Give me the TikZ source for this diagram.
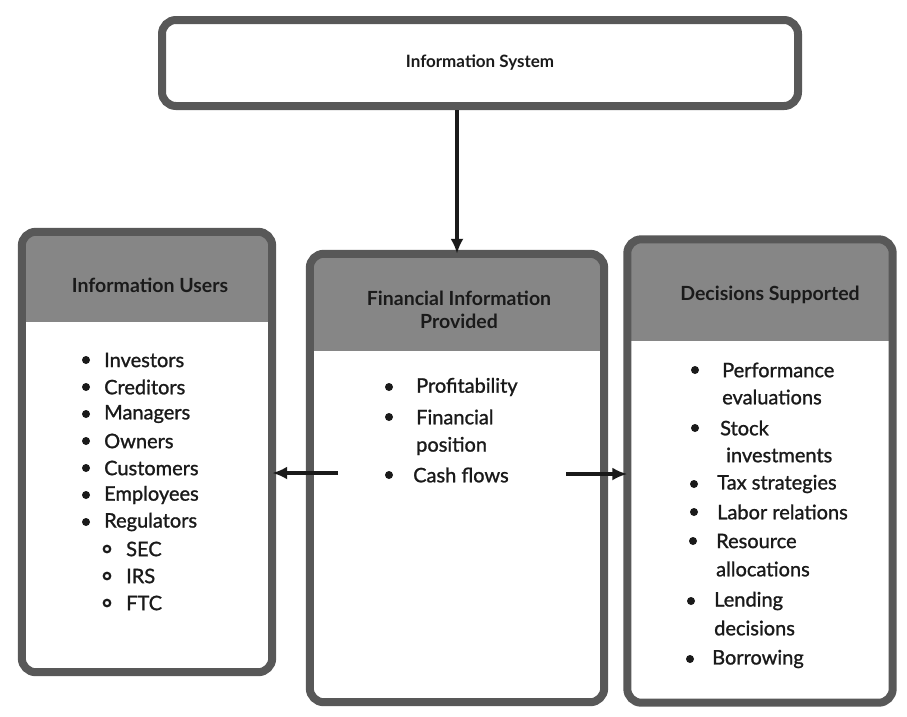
\documentclass[tikz,border=0pt]{standalone}
\usepackage{fontspec}
\setmainfont{Lato}
\newfontfamily\itemfont[FakeBold=1.2]{Lato}
\usetikzlibrary{arrows.meta,calc}
\definecolor{bordergray}{HTML}{585858}
\definecolor{headgray}{HTML}{868686}
\definecolor{ink}{HTML}{1A1A1A}
\begin{document}
\begin{tikzpicture}[x=1pt,y=1pt,
  card/.style={rectangle, fill=white, inner sep=0pt},
  frame/.style={draw=bordergray, line width=8pt, rounded corners=14pt},
  boxtitle/.style={font=\bfseries\fontsize{19.5}{23}\selectfont, text=ink, align=center},
  item/.style={anchor=west, font=\itemfont\fontsize{20}{23}\selectfont, text=ink, inner sep=0pt},
  dot/.style={circle, fill=ink, inner sep=0pt, minimum size=8pt},
  ring/.style={circle, draw=ink, line width=2.2pt, inner sep=0pt, minimum size=6.5pt},
  conn/.style={draw=ink, line width=3.2pt, -{Latex[length=15pt,width=13pt]}}
]
\useasboundingbox (0,0) rectangle (907,-716);

% ---------- top box ----------
\node[card, frame, minimum width=636pt, minimum height=86pt,
      boxtitle, font=\bfseries\fontsize{17}{20}\selectfont] (IS) at (480,-63) {Information System};

% ---------- three cards ----------
\node[card, minimum width=250pt, minimum height=440pt] (L) at (147,-452) {};
\node[card, minimum width=294pt, minimum height=448pt] (M) at (457,-478) {};
\node[card, minimum width=265pt, minimum height=463pt] (R) at (760,-471) {};

% headers
\begin{scope}
  \clip[rounded corners=14pt] (L.north west) rectangle (L.south east);
  \fill[headgray] (L.north west) rectangle ($(L.north east)+(0,-90)$);
\end{scope}
\begin{scope}
  \clip[rounded corners=14pt] (M.north west) rectangle (M.south east);
  \fill[headgray] (M.north west) rectangle ($(M.north east)+(0,-97)$);
\end{scope}
\begin{scope}
  \clip[rounded corners=14pt] (R.north west) rectangle (R.south east);
  \fill[headgray] (R.north west) rectangle ($(R.north east)+(0,-102)$);
\end{scope}
\draw[frame] (L.north west) rectangle (L.south east);
\draw[frame] (M.north west) rectangle (M.south east);
\draw[frame] (R.north west) rectangle (R.south east);

\node[boxtitle] (LT) at (150,-285) {Information Users};
\node[boxtitle] (MT) at (459,-310) {Financial Information\\Provided};
\node[boxtitle] (RT) at (770,-295) {Decisions Supported};

% ---------- left items ----------
\foreach \t [count=\i from 0] in {Investors,Creditors,Managers,Owners,Customers,Employees,Regulators}{
  \node[dot] (Lb\i) at (86,-360-27*\i) {};
  \node[item] (Li\i) at (104,-360-27*\i) {\t};
}
\foreach \t [count=\i from 0] in {SEC,IRS,FTC}{
  \node[ring] (Lr\i) at (107,-549-27*\i) {};
  \node[item] (Ls\i) at (126,-549-27*\i) {\t};
}

% ---------- middle items ----------
\node[dot] (Mb0) at (389,-387) {};
\node[item] (Mi0) at (416,-387) {Profitability};
\node[dot] (Mb1) at (389,-417) {};
\node[item] (Mi1) at (416,-417) {Financial};
\node[item] (Mi2) at (416,-446) {position};
\node[dot] (Mb2) at (389,-475) {};
\node[item] (Mi3) at (413,-475) {Cash flows};

% ---------- right items ----------
\node[dot] (Rb0) at (695,-370) {};
\node[item] (Ri0) at (722,-370) {Performance};
\node[item] (Ri1) at (722,-397) {evaluations};
\node[dot] (Rb1) at (695,-428) {};
\node[item] (Ri2) at (720,-428) {Stock};
\node[item] (Ri3) at (726,-455) {investments};
\node[dot] (Rb2) at (694,-484) {};
\node[item] (Ri4) at (717,-484) {Tax strategies};
\node[dot] (Rb3) at (694,-512) {};
\node[item] (Ri5) at (717,-512) {Labor relations};
\node[dot] (Rb4) at (693,-541) {};
\node[item] (Ri6) at (716,-541) {Resource};
\node[item] (Ri7) at (716,-569) {allocations};
\node[dot] (Rb5) at (691,-601) {};
\node[item] (Ri8) at (714,-601) {Lending};
\node[item] (Ri9) at (714,-628) {decisions};
\node[dot] (Rb6) at (690,-659) {};
\node[item] (Ri10) at (712,-659) {Borrowing};

% ---------- connectors ----------
\coordinate (dtop) at (IS.south -| M.north);
\draw[conn] (dtop) -- (M.north);
\coordinate (lstart) at (338,-473);
\draw[conn] (lstart) -- (lstart -| L.east);
\coordinate (rstart) at (566,-474);
\draw[conn] (rstart) -- (rstart -| R.west);
\end{tikzpicture}
\end{document}
